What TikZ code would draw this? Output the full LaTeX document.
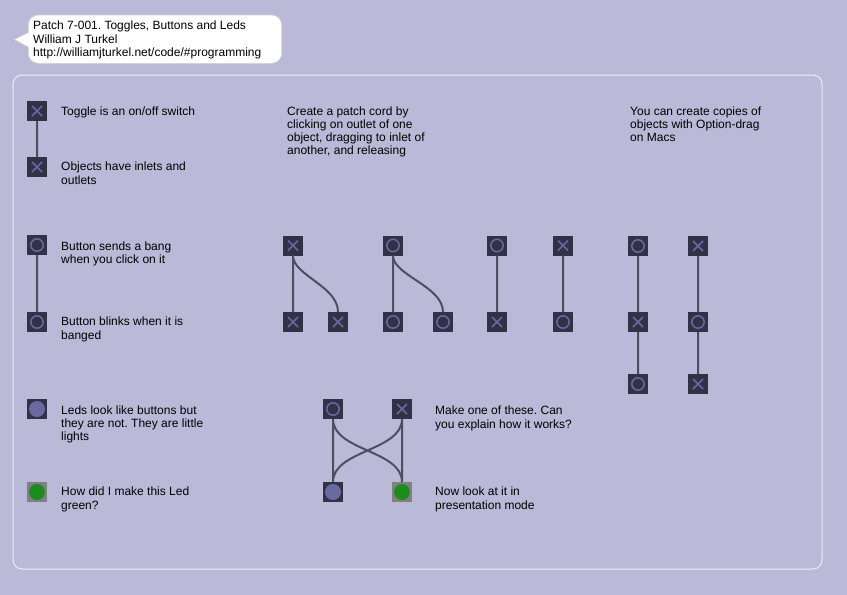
\documentclass[tikz,border=0pt]{standalone}
\usepackage{fontspec}
\setmainfont{Liberation Sans}
\usetikzlibrary{positioning}
\definecolor{PatchBg}{RGB}{186,186,216}
\definecolor{BoxFill}{RGB}{50,50,70}
\definecolor{SymCol}{RGB}{104,104,164}
\definecolor{CordCol}{RGB}{78,78,94}
\definecolor{LedOff}{RGB}{106,106,162}
\definecolor{LedOn}{RGB}{28,140,28}
\definecolor{LedBox}{RGB}{128,128,128}
\definecolor{FrameCol}{RGB}{236,236,244}
\frenchspacing
\begin{document}
\begin{tikzpicture}[x=1pt, y=-1pt,
     B/.style = {fill=BoxFill, minimum size=20pt, inner sep=0pt, outer sep=0pt},
   TOG/.style = {B, path picture={
                  \draw[SymCol, line width=1.5pt]
                    ([shift={(-5pt,-5pt)}]path picture bounding box.center) -- ++(10pt,10pt)
                    ([shift={(-5pt,5pt)}]path picture bounding box.center) -- ++(10pt,-10pt);}},
   BTN/.style = {B, path picture={
                  \draw[SymCol, line width=1.5pt] (path picture bounding box.center) circle (6.2pt);}},
   LED/.style = {B, path picture={
                  \fill[LedOff] (path picture bounding box.center) circle (8pt);}},
  LEDG/.style = {B, fill=LedBox, path picture={
                  \fill[LedOn] (path picture bounding box.center) circle (8pt);}},
     T/.style = {anchor=north west, inner sep=0pt, align=left,
                 font=\fontsize{12}{13.3}\selectfont},
  cord/.style = {draw=CordCol, line width=2pt}
                        ]
\useasboundingbox (0,0) rectangle (847,595);
\fill[PatchBg] (0,0) rectangle (847,595);
% frame and comment bubble
\draw[FrameCol, line width=1pt, rounded corners=9pt] (13,75) rectangle (822,569);
\draw[fill=white, draw=gray!35, line width=0.6pt]
     (14.3,39.5) -- (28.3,32.5) [rounded corners=10pt] -- (28.3,15) -- (281.7,15)
     -- (281.7,63.3) -- (28.3,63.3) [sharp corners] -- (28.3,47) -- cycle;
\node[T] (title) at (33,20.6) {\rule{0pt}{9pt}Patch 7-001. Toggles, Buttons and Leds\\
     William J Turkel\\ http://williamjturkel.net/code/\#programming};

% left column
\node[TOG] (togA) at (37,111) {};
\node[TOG] (togB) at (37,167) {};
\node[BTN] (btnA) at (37,245) {};
\node[BTN] (btnB) at (37,322) {};
\node[LED] (ledA) at (37,409) {};
\node[LEDG] (ledB) at (37,492) {};
\node[T] (txtTog)  at (61,105.8) {\rule{0pt}{9pt}Toggle is an on/off switch};
\node[T] (txtObj)  at (61,161.5) {\rule{0pt}{9pt}Objects have inlets and\\ outlets};
\node[T] (txtBtn)  at (61,240.8) {\rule{0pt}{9pt}Button sends a bang\\ when you click on it};
\node[T] (txtBlk)  at (61,316.5) {\rule{0pt}{9pt}Button blinks when it is\\ banged};
\node[T] (txtLed)  at (61,404.8) {\rule{0pt}{9pt}Leds look like buttons but\\ they are not. They are little\\ lights};
\node[T] (txtGrn)  at (61,486.5) {\rule{0pt}{9pt}How did I make this Led\\ green?};

% patch cord examples
\node[T] (txtCord) at (287,105.8) {\rule{0pt}{9pt}Create a patch cord by\\ clicking on outlet of one\\
     object, dragging to inlet of\\ another, and releasing};
\node[TOG] (pA)  at (293,245.5) {};
\node[TOG] (pA1) at (293,322) {};
\node[TOG] (pA2) at (338,322) {};
\node[BTN] (pB)  at (393,245.5) {};
\node[BTN] (pB1) at (393,322) {};
\node[BTN] (pB2) at (443,322) {};
\node[BTN] (pC)  at (497,245.5) {};
\node[TOG] (pC1) at (497,322) {};
\node[TOG] (pD)  at (563,245.5) {};
\node[BTN] (pD1) at (563,322) {};

% copies
\node[T] (txtCopy) at (630,105.8) {\rule{0pt}{9pt}You can create copies of\\ objects with Option-drag\\ on Macs};
\node[BTN] (cA)  at (638,246) {};
\node[TOG] (cA1) at (638,322) {};
\node[BTN] (cA2) at (638,384) {};
\node[TOG] (cB)  at (698,246) {};
\node[BTN] (cB1) at (698,322) {};
\node[TOG] (cB2) at (698,384) {};

% crossed leds
\node[BTN] (xA) at (333,409) {};
\node[TOG] (xB) at (402,409) {};
\node[LED] (xL) at (333,492) {};
\node[LEDG] (xG) at (402,492) {};
\node[T] (txtMake) at (435,405.5) {\rule{0pt}{9pt}Make one of these. Can\\ you explain how it works?};
\node[T] (txtPres) at (435,486.5) {\rule{0pt}{9pt}Now look at it in\\ presentation mode};

\path[cord] (togA) -- (togB)
        (btnA) -- (btnB)
        (pA.south) -- (pA1.north)
        (pA.south) .. controls +(0,20) and +(0,-26) .. (pA2.north)
        (pB.south) -- (pB1.north)
        (pB.south) .. controls +(0,20) and +(0,-26) .. (pB2.north)
        (pC) -- (pC1)
        (pD) -- (pD1)
        (cA) -- (cA1)  (cA1) -- (cA2)
        (cB) -- (cB1)  (cB1) -- (cB2)
        (xA.south) -- (xL.north)
        (xB.south) -- (xG.north)
        (xA.south) .. controls +(0,32) and +(0,-32) .. (xG.north)
        (xB.south) .. controls +(0,32) and +(0,-32) .. (xL.north);
\end{tikzpicture}
\end{document}
